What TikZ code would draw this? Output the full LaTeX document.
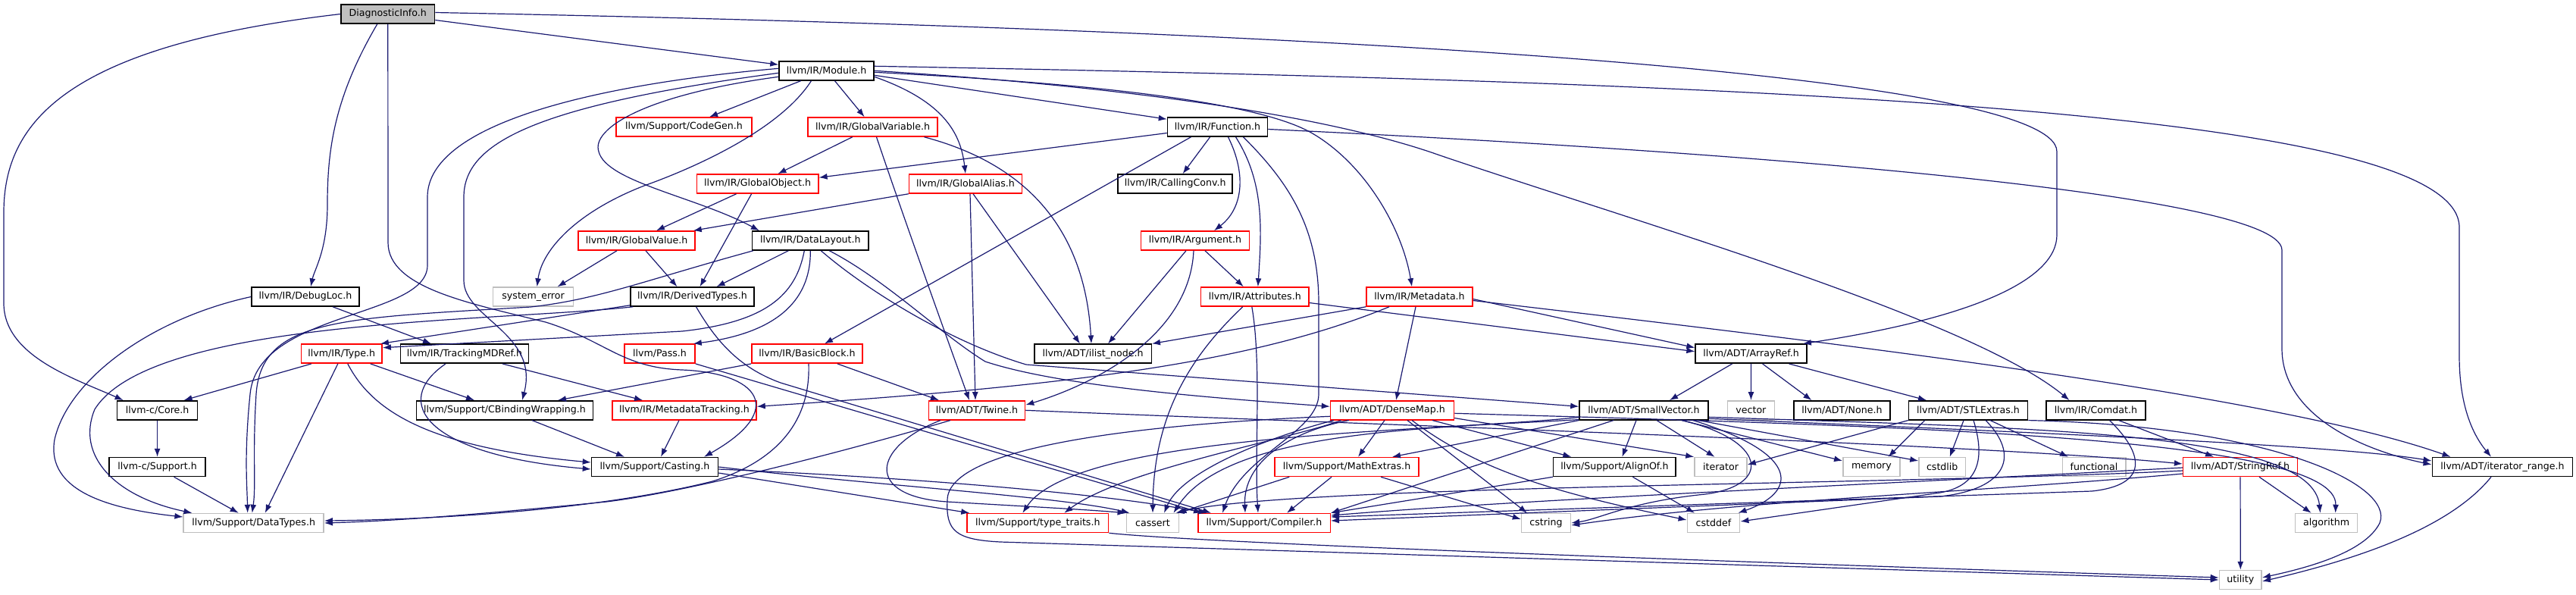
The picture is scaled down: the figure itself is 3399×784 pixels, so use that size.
\documentclass[tikz,border=0pt]{standalone}
\usepackage{fontspec}
\setmainfont{DejaVu Sans}
\usetikzlibrary{calc,arrows.meta}
\definecolor{edgec}{HTML}{191970}
\definecolor{grayb}{HTML}{BFBFBF}
\begin{document}
\begin{tikzpicture}[x=0.5pt,y=-0.5pt,
  nb/.style={draw=black,fill=white,line width=0.75pt,minimum height=12.5pt,inner sep=0pt,font=\fontsize{6.3}{7.5}\selectfont,anchor=center},
  rb/.style={nb,draw=red},
  gb/.style={nb,draw=grayb},
  root/.style={nb,fill=grayb},
  e/.style={draw=edgec,line width=0.6pt,-{Latex[length=5.5pt,width=4pt]}}]
\useasboundingbox (0,0) rectangle (3399,784);
% nodes
\node[root,minimum width=61.75pt] (diag) at (511.8,18.5) {DiagnosticInfo.h};
\node[nb,minimum width=62.5pt] (module) at (1090.5,93.3) {llvm/IR/Module.h};
\node[rb,minimum width=89.5pt] (codegen) at (902.5,167.5) {llvm/Support/CodeGen.h};
\node[rb,minimum width=85.5pt] (gvar) at (1151.5,167.5) {llvm/IR/GlobalVariable.h};
\node[nb,minimum width=66pt] (func) at (1606.5,167.5) {llvm/IR/Function.h};
\node[rb,minimum width=80.2pt] (gobj) at (999.6,242.5) {llvm/IR/GlobalObject.h};
\node[rb,minimum width=74.5pt] (galias) at (1274,242.5) {llvm/IR/GlobalAlias.h};
\node[nb,minimum width=75.5pt] (callconv) at (1550.7,242.5) {llvm/IR/CallingConv.h};
\node[rb,minimum width=77pt] (gval) at (840,317.5) {llvm/IR/GlobalValue.h};
\node[nb,minimum width=76.7pt] (dl) at (1069.3,317.5) {llvm/IR/DataLayout.h};
\node[rb,minimum width=71.5pt] (arg) at (1577,317.5) {llvm/IR/Argument.h};
\node[nb,minimum width=71pt] (debugloc) at (403,391.5) {llvm/IR/DebugLoc.h};
\node[gb,minimum width=53pt] (syserr) at (703.6,391.5) {system\_error};
\node[nb,minimum width=81.5pt] (derived) at (913.5,391.5) {llvm/IR/DerivedTypes.h};
\node[rb,minimum width=71.25pt] (attr) at (1655.8,391.5) {llvm/IR/Attributes.h};
\node[rb,minimum width=70pt] (meta) at (1873,391.5) {llvm/IR/Metadata.h};
\node[rb,minimum width=53.35pt] (type) at (450.8,466.7) {llvm/IR/Type.h};
\node[nb,minimum width=84.5pt] (tmd) at (613,466.7) {llvm/IR/TrackingMDRef.h};
\node[rb,minimum width=46.5pt] (pass) at (870.5,466.7) {llvm/Pass.h};
\node[rb,minimum width=73.2pt] (bb) at (1065,466.7) {llvm/IR/BasicBlock.h};
\node[nb,minimum width=77.25pt] (ilist) at (1442,466.7) {llvm/ADT/ilist\_node.h};
\node[nb,minimum width=73.5pt] (arrayref) at (2310.6,466.7) {llvm/ADT/ArrayRef.h};
\node[nb,minimum width=53pt] (core) at (207.6,541.3) {llvm-c/Core.h};
\node[nb,minimum width=116.5pt] (cbw) at (666,541.3) {llvm/Support/CBindingWrapping.h};
\node[rb,minimum width=95pt] (mdtrack) at (903,541.3) {llvm/IR/MetadataTracking.h};
\node[rb,minimum width=63.5pt] (twine) at (1289,541.3) {llvm/ADT/Twine.h};
\node[rb,minimum width=81.5pt] (densemap) at (1837,541.3) {llvm/ADT/DenseMap.h};
\node[nb,minimum width=85pt] (smallvec) at (2169,541.3) {llvm/ADT/SmallVector.h};
\node[gb,minimum width=31pt] (vector) at (2310.4,541.3) {vector};
\node[nb,minimum width=63.5pt] (none) at (2430.4,541.3) {llvm/ADT/None.h};
\node[nb,minimum width=78.5pt] (stlext) at (2597,541.3) {llvm/ADT/STLExtras.h};
\node[nb,minimum width=65.3pt] (comdat) at (2765.5,541.3) {llvm/IR/Comdat.h};
\node[nb,minimum width=63.5pt] (csupport) at (207.6,616) {llvm-c/Support.h};
\node[nb,minimum width=83.5pt] (casting) at (864,616) {llvm/Support/Casting.h};
\node[rb,minimum width=95pt] (mathext) at (1777,616) {llvm/Support/MathExtras.h};
\node[nb,minimum width=80.8pt] (alignof) at (2130.4,616) {llvm/Support/AlignOf.h};
\node[gb,minimum width=34.5pt] (iterator) at (2270.5,616) {iterator};
\node[gb,minimum width=37.7pt] (memory) at (2469.5,616) {memory};
\node[gb,minimum width=30.7pt] (cstdlib) at (2562.7,616) {cstdlib};
\node[gb,minimum width=41.75pt] (functional) at (2763,616) {functional};
\node[rb,minimum width=75.35pt] (stringref) at (2956,616) {llvm/ADT/StringRef.h};
\node[nb,minimum width=92.7pt] (itrange) at (3302,616) {llvm/ADT/iterator\_range.h};
\node[gb,minimum width=92.5pt] (datatypes) at (334.7,690) {llvm/Support/DataTypes.h};
\node[rb,minimum width=93.3pt] (typetraits) at (1369.3,690) {llvm/Support/type\_traits.h};
\node[gb,minimum width=34.7pt] (cassert) at (1521,690) {cassert};
\node[rb,minimum width=87.25pt] (compiler) at (1668,690) {llvm/Support/Compiler.h};
\node[gb,minimum width=32.5pt] (cstring) at (2040,690) {cstring};
\node[gb,minimum width=34.7pt] (cstddef) at (2261,690) {cstddef};
\node[gb,minimum width=40.9pt] (algorithm) at (3069.6,690) {algorithm};
\node[gb,minimum width=27.9pt] (utility) at (2956.3,765) {utility};
% DiagnosticInfo
\draw[e] (diag.west) .. controls (90,60) and (5,160) .. (5,280) -- (5,400) .. controls (5,470) and (100,500) .. ($(core.north)+(-45,0)$);
\draw[e] ($(diag.south)+(-14,0)$) .. controls (440,130) and (432,200) .. (432,270) .. controls (432,330) and (415,355) .. ($(debugloc.north)+(7,0)$);
\draw[e] (diag.south) -- (512,320) .. controls (512,380) and (620,400) .. (720,425) .. controls (800,450) and (820,485) .. (900,488) .. controls (1000,492) and (1040,540) .. ($(casting.north)+(65,0)$);
\draw[e] ($(diag.east)+(0,8)$) -- ($(module.west)+(0,-8)$);
\draw[e] ($(diag.east)+(0,-2)$) .. controls (1800,40) and (2714,100) .. (2714,200) -- (2714,310) .. controls (2714,370) and (2600,420) .. ($(arrayref.north east)+(-6,0)$);
% Module
\draw[e] (module) -- (codegen);
\draw[e] (module) -- (gvar);
\draw[e] ($(module.east)+(0,8)$) .. controls (1250,135) and (1268,180) .. (galias.north);
\draw[e] ($(module.east)+(0,6)$) -- ($(func.north west)+(0,3)$);
\draw[e] ($(module.east)+(0,2)$) .. controls (1400,108) and (1650,130) .. (1730,175) .. controls (1800,215) and (1850,300) .. ($(meta.north)+(-10,0)$);
\draw[e] ($(module.east)+(0,0)$) .. controls (1500,115) and (1760,155) .. (1900,205) .. controls (2150,290) and (2600,420) .. ($(comdat.north)+(-35,0)$);
\draw[e] ($(module.east)+(0,-6)$) .. controls (2400,110) and (3245,150) .. (3245,300) -- (3245,470) .. controls (3245,530) and (3260,570) .. ($(itrange.north)+(-15,0)$);
\draw[e] ($(module.west)+(0,8)$) .. controls (850,125) and (780,170) .. (790,200) .. controls (800,240) and (920,260) .. ($(dl.north west)+(10,0)$);
\draw[e] ($(module.south)+(-20,0)$) .. controls (1030,170) and (920,220) .. (850,245) .. controls (760,280) and (715,330) .. ($(syserr.north)+(5,0)$);
\draw[e] ($(module.west)+(0,-3)$) .. controls (800,110) and (564,160) .. (564,260) -- (564,350) .. controls (564,420) and (340,410) .. (330,520) .. controls (322,600) and (326,640) .. ($(datatypes.north)+(-8,0)$);
\draw[e] ($(module.west)+(0,3)$) .. controls (700,140) and (612,190) .. (612,260) -- (612,370) .. controls (612,420) and (712,440) .. ($(cbw.north)+(23,0)$);
% GlobalVariable / GlobalAlias / GlobalObject / GlobalValue
\draw[e] (gvar) -- (gobj);
\draw[e] ($(gvar.south)+(5,0)$) .. controls (1190,280) and (1240,420) .. ($(twine.north)+(-10,0)$);
\draw[e] ($(gvar.south)+(68,0)$) .. controls (1330,210) and (1430,280) .. ($(ilist.north)+(-2,0)$);
\draw[e] (galias.south west) -- ($(gval.north east)+(-3,0)$);
\draw[e] ($(galias.south)+(6,0)$) -- ($(twine.north)+(-2,0)$);
\draw[e] ($(galias.south)+(10,0)$) -- ($(ilist.north)+(-17,0)$);
\draw[e] ($(gobj.south)+(-28,0)$) -- ($(gval.north)+(26,0)$);
\draw[e] ($(gobj.south)+(-8,0)$) -- ($(derived.north)+(10,0)$);
\draw[e] ($(gval.south)+(-26,0)$) -- ($(syserr.north)+(32,0)$);
\draw[e] ($(gval.south)+(12,0)$) -- ($(derived.north)+(-20,0)$);
% Function
\draw[e] ($(func.west)+(0,8)$) -- ($(gobj.north east)+(0,5)$);
\draw[e] ($(func.south)+(-35,0)$) -- ($(bb.north)+(23,0)$);
\draw[e] (func) -- (callconv);
\draw[e] ($(func.south)+(14,0)$) .. controls (1645,230) and (1640,275) .. ($(arg.north)+(25,0)$);
\draw[e] ($(func.south)+(24,0)$) .. controls (1668,240) and (1665,300) .. ($(attr.north)+(4,0)$);
\draw[e] ($(func.south)+(34,0)$) .. controls (1700,240) and (1740,300) .. (1740,400) -- (1740,520) .. controls (1740,570) and (1640,600) .. ($(compiler.north)+(-55,0)$);
\draw[e] ($(func.east)+(0,3)$) .. controls (2200,195) and (3011,250) .. (3011,330) -- (3011,460) .. controls (3011,540) and (3100,590) .. ($(itrange.west)+(0,-3)$);
% DataLayout
\draw[e] ($(dl.south)+(-29,0)$) -- ($(derived.north)+(32,0)$);
\draw[e] ($(dl.south)+(-8,0)$) .. controls (1050,390) and (1010,425) .. (900,437) -- ($(type.east)+(0,-8)$);
\draw[e] (dl.south) .. controls (1070,400) and (1020,440) .. ($(pass.north east)+(-3,0)$);
\draw[e] ($(dl.south west)+(2,0)$) .. controls (850,370) and (790,395) .. (700,405) .. controls (450,420) and (345,420) .. (338,520) .. controls (333,600) and (338,640) .. ($(datatypes.north)+(-2,0)$);
\draw[e] ($(dl.south)+(14,0)$) .. controls (1140,380) and (1250,450) .. (1354,481) -- ($(smallvec.west)+(0,-5)$);
\draw[e] ($(dl.south)+(25,0)$) .. controls (1170,370) and (1240,440) .. (1300,477) .. controls (1400,510) and (1600,525) .. ($(densemap.west)+(0,-5)$);
% DebugLoc / DerivedTypes / Pass
\draw[e] ($(debugloc.south)+(36,0)$) -- ($(tmd.north)+(-44,0)$);
\draw[e] (debugloc.west) .. controls (200,420) and (90,500) .. (72,580) .. controls (60,650) and (150,672) .. ($(datatypes.west)+(0,-8)$);
\draw[e] ($(derived.south west)+(0,-2)$) -- ($(type.north east)+(-3,0)$);
\draw[e] ($(derived.south west)+(4,0)$) .. controls (650,425) and (200,420) .. (125,540) .. controls (100,600) and (150,655) .. ($(datatypes.north west)+(12,0)$);
\draw[e] ($(derived.south)+(5,0)$) .. controls (945,450) and (975,485) .. (1030,505) -- ($(compiler.north)+(-70,0)$);
\draw[e] (pass.south east) -- ($(compiler.north)+(-82,0)$);
% Type / TrackingMDRef / C API
\draw[e] ($(type.south)+(-40,0)$) -- ($(core.north)+(35,0)$);
\draw[e] ($(type.south)+(-5,0)$) -- ($(datatypes.north)+(15,0)$);
\draw[e] ($(type.south)+(8,0)$) .. controls (490,540) and (560,590) .. ($(casting.west)+(0,-6)$);
\draw[e] ($(type.south)+(38,0)$) -- ($(cbw.north)+(-40,0)$);
\draw[e] ($(tmd.south)+(-25,0)$) .. controls (515,530) and (560,600) .. ($(casting.west)+(0,3)$);
\draw[e] ($(tmd.south)+(50,0)$) -- ($(mdtrack.north)+(-55,0)$);
\draw[e] (core) -- (csupport);
\draw[e] ($(csupport.south)+(22,0)$) -- ($(datatypes.north)+(-20,0)$);
\draw[e] ($(cbw.south)+(36,0)$) -- ($(casting.north)+(-40,0)$);
\draw[e] ($(mdtrack.south)+(-7,0)$) -- ($(casting.north)+(8,0)$);
% BasicBlock / Twine / Casting
\draw[e] ($(bb.south)+(40,0)$) -- ($(twine.north)+(-50,0)$);
\draw[e] (bb.south west) -- ($(cbw.north)+(70,0)$);
\draw[e] ($(bb.south)+(2,0)$) .. controls (1070,560) and (1020,610) .. (940,635) .. controls (800,670) and (600,685) .. ($(datatypes.east)+(0,-3)$);
\draw[e] ($(twine.south)+(-35,0)$) .. controls (1100,600) and (900,650) .. (800,662) .. controls (600,682) and (500,688) .. (datatypes.east);
\draw[e] ($(twine.south)+(-48,0)$) .. controls (1150,590) and (1140,655) .. (1250,662) .. controls (1350,668) and (1430,672) .. (cassert.north west);
\draw[e] (twine.east) .. controls (1800,560) and (2600,585) .. ($(stringref.west)+(0,-4)$);
\draw[e] ($(casting.east)+(0,8)$) -- ($(typetraits.north west)+(4,0)$);
\draw[e] (casting.east) .. controls (1150,640) and (1400,655) .. ($(cassert.north west)+(5,0)$);
\draw[e] ($(casting.east)+(0,3)$) .. controls (1200,630) and (1450,650) .. ($(compiler.north west)+(12,0)$);
% Argument / Attributes / Metadata
\draw[e] ($(arg.south)+(13,0)$) -- ($(attr.north)+(-15,0)$);
\draw[e] ($(arg.south)+(-12,0)$) -- ($(ilist.north)+(20,0)$);
\draw[e] ($(arg.south)+(-2,0)$) .. controls (1570,440) and (1450,505) .. ($(twine.east)+(0,-7)$);
\draw[e] ($(attr.east)+(0,8)$) -- ($(arrayref.west)+(0,-3)$);
\draw[e] ($(attr.south)+(-16,0)$) .. controls (1560,480) and (1522,560) .. (cassert.north);
\draw[e] ($(attr.south)+(-4,0)$) .. controls (1665,480) and (1655,600) .. ($(compiler.north)+(-8,0)$);
\draw[e] (meta.south west) -- (ilist.north east);
\draw[e] ($(meta.south)+(-40,0)$) .. controls (1650,480) and (1400,510) .. ($(mdtrack.east)+(0,-5)$);
\draw[e] ($(meta.south)+(-5,0)$) -- ($(densemap.north)+(5,0)$);
\draw[e] ($(meta.east)+(0,3)$) -- ($(arrayref.west)+(0,-8)$);
\draw[e] ($(meta.east)+(0,5)$) .. controls (2400,450) and (3000,520) .. ($(itrange.north west)+(25,0)$);
% ArrayRef
\draw[e] ($(arrayref.south)+(-25,0)$) -- ($(smallvec.north)+(34,0)$);
\draw[e] (arrayref) -- (vector);
\draw[e] ($(arrayref.south)+(15,0)$) -- ($(none.north)+(-40,0)$);
\draw[e] ($(arrayref.south)+(50,0)$) -- ($(stlext.north)+(-55,0)$);
% DenseMap
\draw[e] ($(densemap.south)+(-10,0)$) -- ($(mathext.north)+(15,0)$);
\draw[e] ($(densemap.south)+(53,0)$) -- ($(alignof.north)+(-57,0)$);
\draw[e] ($(densemap.south east)+(0,-3)$) -- (iterator.north west);
\draw[e] ($(densemap.south)+(20,0)$) -- ($(cstring.north)+(-25,0)$);
\draw[e] ($(densemap.south)+(26,0)$) .. controls (1950,620) and (2050,650) .. ($(cstddef.west)+(0,-4)$);
\draw[e] ($(densemap.south west)+(15,0)$) .. controls (1700,580) and (1480,620) .. ($(typetraits.north)+(35,0)$);
\draw[e] ($(densemap.south west)+(5,0)$) .. controls (1680,575) and (1560,620) .. ($(cassert.north)+(15,0)$);
\draw[e] ($(densemap.south west)+(25,0)$) .. controls (1700,570) and (1640,610) .. ($(compiler.north)+(-25,0)$);
\draw[e] ($(densemap.west)+(0,8)$) .. controls (1500,560) and (1250,590) .. (1250,660) .. controls (1248,700) and (1260,712) .. (1320,715) -- (utility.west);
\draw[e] ($(densemap.east)+(0,4)$) .. controls (2500,562) and (3085,575) .. ($(algorithm.north)+(12,0)$);
% SmallVector
\draw[e] ($(smallvec.south)+(-10,0)$) -- ($(alignof.north)+(10,0)$);
\draw[e] ($(smallvec.south)+(17,0)$) -- ($(iterator.north)+(-8,0)$);
\draw[e] ($(smallvec.south)+(50,0)$) -- ($(memory.west)+(0,-8)$);
\draw[e] ($(smallvec.south)+(72,0)$) -- ($(cstdlib.west)+(0,-8)$);
\draw[e] (smallvec.south west) -- ($(mathext.north)+(60,0)$);
\draw[e] ($(smallvec.south)+(-40,0)$) -- (compiler.north east);
\draw[e] ($(smallvec.south west)+(0,-4)$) .. controls (1900,570) and (1420,570) .. ($(typetraits.north)+(-20,0)$);
\draw[e] ($(smallvec.south west)+(0,-1)$) .. controls (1900,565) and (1620,565) .. ($(cassert.north east)+(-8,0)$);
\draw[e] ($(smallvec.south)+(50,0)$) .. controls (2330,580) and (2340,640) .. (2250,652) .. controls (2150,662) and (2110,685) .. (cstring.east);
\draw[e] ($(smallvec.south)+(65,0)$) .. controls (2380,600) and (2370,650) .. ($(cstddef.north east)+(-3,0)$);
\draw[e] ($(smallvec.east)+(0,9)$) .. controls (2700,565) and (3050,570) .. ($(algorithm.north)+(-8,0)$);
\draw[e] ($(smallvec.east)+(0,11)$) .. controls (2800,575) and (3100,590) .. ($(itrange.west)+(0,-8)$);
% STLExtras
\draw[e] ($(stlext.south)+(-6,0)$) -- ($(cstdlib.north)+(10,0)$);
\draw[e] ($(stlext.south)+(29,0)$) -- ($(functional.north)+(-34,0)$);
\draw[e] ($(stlext.south west)+(22,0)$) -- ($(memory.north)+(22,0)$);
\draw[e] (stlext.south west) -- ($(iterator.east)+(0,-3)$);
\draw[e] ($(stlext.south)+(7,0)$) .. controls (2618,600) and (2615,640) .. (2560,650) -- ($(cstddef.east)+(0,-2)$);
\draw[e] ($(stlext.south)+(23,0)$) .. controls (2665,600) and (2650,645) .. (2560,655) -- ($(compiler.east)+(0,-3)$);
\draw[e] (stlext.south east) .. controls (3000,562) and (3160,640) .. (3140,690) .. controls (3120,730) and (3040,750) .. ($(utility.east)+(0,-3)$);
% Comdat / StringRef
\draw[e] ($(comdat.south)+(30,0)$) -- ($(stringref.north)+(-35,0)$);
\draw[e] ($(comdat.south)+(18,0)$) .. controls (2830,600) and (2835,640) .. (2760,648) -- ($(compiler.east)+(0,-8)$);
\draw[e] (stringref) -- (utility);
\draw[e] ($(stringref.south)+(25,0)$) -- ($(algorithm.north)+(-20,0)$);
\draw[e] ($(stringref.west)+(0,5)$) .. controls (2500,640) and (1700,640) .. ($(cassert.north east)+(-5,0)$);
\draw[e] ($(stringref.west)+(0,9)$) .. controls (2600,650) and (2300,660) .. ($(cstring.east)+(0,3)$);
\draw[e] ($(stringref.west)+(0,1)$) .. controls (2450,640) and (2000,660) .. ($(compiler.east)+(0,-10)$);
% MathExtras / AlignOf / leaves
\draw[e] ($(mathext.south)+(-20,0)$) -- ($(compiler.north)+(30,0)$);
\draw[e] ($(mathext.south west)+(20,0)$) -- ($(cassert.north east)+(-2,0)$);
\draw[e] ($(mathext.south)+(45,0)$) -- ($(cstring.west)+(0,-5)$);
\draw[e] (alignof.south west) -- (compiler.north east);
\draw[e] ($(alignof.south)+(24,0)$) -- ($(cstddef.north)+(-25,0)$);
\draw[e] (typetraits.south east) .. controls (1600,718) and (2400,745) .. ($(utility.west)+(0,-3)$);
\draw[e] ($(itrange.south)+(-15,0)$) .. controls (3230,700) and (3100,740) .. ($(utility.east)+(0,2)$);
\end{tikzpicture}
\end{document}
